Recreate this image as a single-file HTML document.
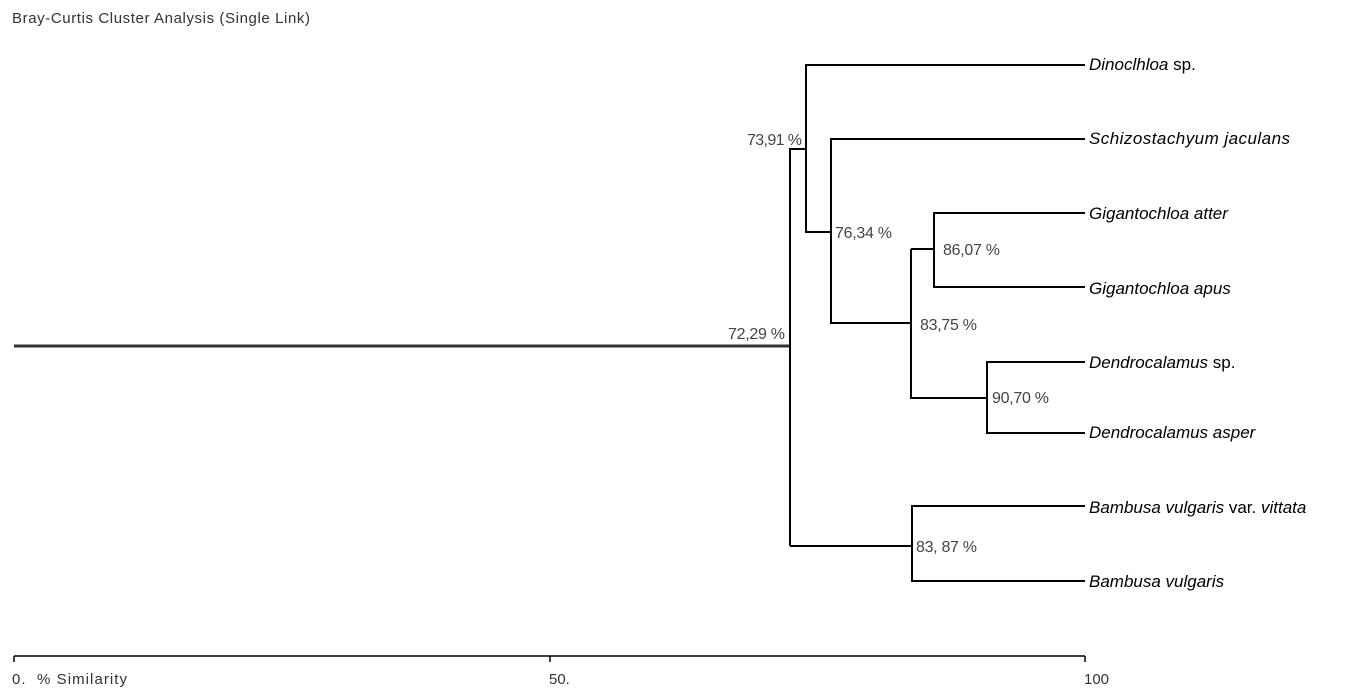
<!DOCTYPE html>
<html><head><meta charset="utf-8"><style>
body{margin:0;background:#fff;width:1369px;height:690px;overflow:hidden}
svg{display:block}
.l{font-family:"Liberation Sans",sans-serif;font-size:16px;fill:#444}
.n{font-family:"Liberation Sans",sans-serif;font-size:17px;font-style:italic;fill:#000}
.a{font-family:"Liberation Sans",sans-serif;font-size:15px;fill:#333}
</style></head><body>
<svg width="1369" height="690" xmlns="http://www.w3.org/2000/svg">
<text x="12" y="23" class="a" font-size="16" textLength="298">Bray-Curtis Cluster Analysis (Single Link)</text>
<g stroke="#000" stroke-width="2" fill="none">
<line x1="14" y1="346" x2="790" y2="346" stroke="#333" stroke-width="3"/>
<path d="M790 546V149H806"/>
<path d="M1085 65H806V232H831"/>
<path d="M1085 139H831V323H911"/>
<path d="M911 249V398H987"/>
<path d="M911 249H934"/>
<path d="M1085 213H934V287H1085"/>
<path d="M1085 362H987V433H1085"/>
<path d="M790 546H912"/>
<path d="M1085 506H912V581H1085"/>
</g>
<g stroke="#000" stroke-width="1.5">
<line x1="14" y1="656" x2="1085" y2="656"/>
<line x1="14" y1="656" x2="14" y2="662"/>
<line x1="550" y1="656" x2="550" y2="662"/>
<line x1="1085" y1="656" x2="1085" y2="662"/>
</g>
<text x="12" y="684" class="a" textLength="115">0.&#160;&#160;% Similarity</text>
<text x="549" y="684" class="a">50.</text>
<text x="1084" y="684" class="a">100</text>
<text x="747" y="145" class="l" textLength="55">73,91 %</text>
<text x="728" y="339" class="l" textLength="57">72,29 %</text>
<text x="835" y="238" class="l" textLength="57">76,34 %</text>
<text x="943" y="255" class="l" textLength="57">86,07 %</text>
<text x="920" y="330" class="l" textLength="57">83,75 %</text>
<text x="992" y="403" class="l" textLength="57">90,70 %</text>
<text x="916" y="552" class="l" textLength="61">83, 87 %</text>
<text x="1089" y="70" class="n">Dinoclhloa <tspan font-style="normal">sp.</tspan></text>
<text x="1089" y="144" class="n" textLength="201">Schizostachyum jaculans</text>
<text x="1089" y="219" class="n">Gigantochloa atter</text>
<text x="1089" y="294" class="n">Gigantochloa apus</text>
<text x="1089" y="368" class="n">Dendrocalamus <tspan font-style="normal">sp.</tspan></text>
<text x="1089" y="438" class="n">Dendrocalamus asper</text>
<text x="1089" y="513" class="n">Bambusa vulgaris <tspan font-style="normal">var.</tspan> vittata</text>
<text x="1089" y="587" class="n">Bambusa vulgaris</text>
</svg>
</body></html>
